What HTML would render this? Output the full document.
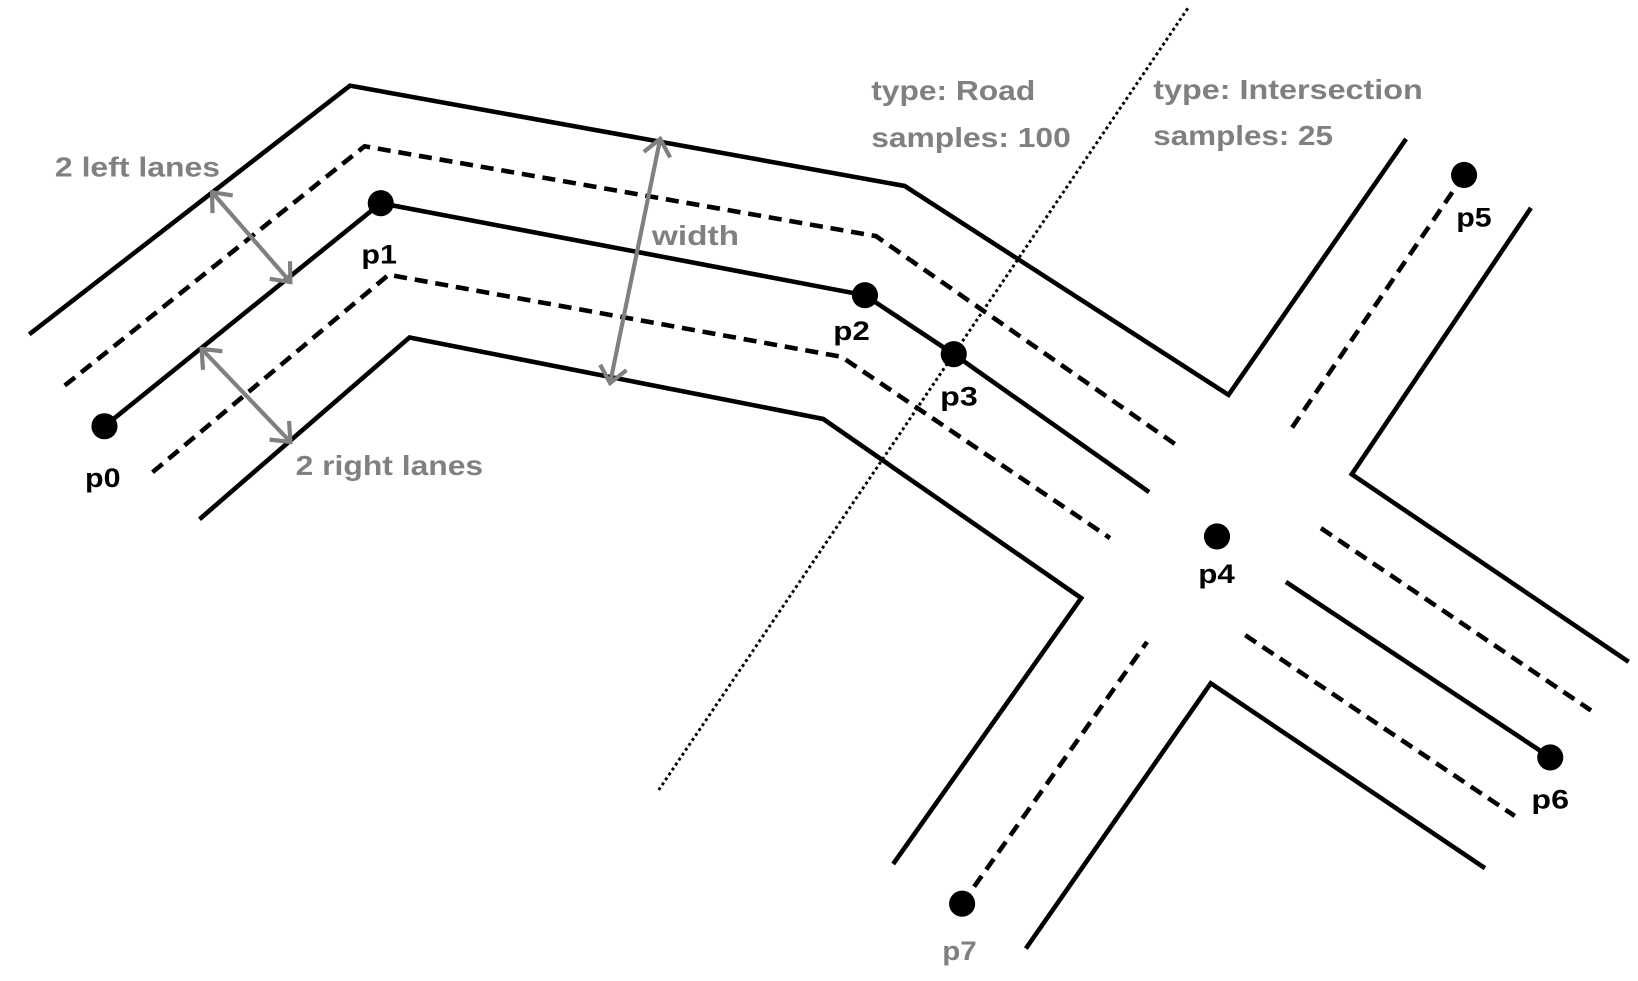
<!DOCTYPE html>
<html>
<head>
<meta charset="utf-8">
<style>
  html,body{margin:0;padding:0;background:#fff;}
  svg{display:block;}
  text{font-family:"Liberation Sans",Arial,sans-serif;font-weight:bold;}
</style>
</head>
<body>
<svg width="1638" height="981" viewBox="0 0 1568 939" preserveAspectRatio="none" xmlns="http://www.w3.org/2000/svg">
  <rect x="0" y="0" width="1568" height="939" fill="#fff"/>

  <!-- dotted separator -->
  <line x1="1137" y1="8" x2="630" y2="757" stroke="#000" stroke-width="2.8" stroke-dasharray="2.8 2.9"/>

  <g fill="none" stroke="#000" stroke-width="4.4" stroke-linejoin="miter">
    <!-- outer top boundary -->
    <polyline points="28,320 335,82 866,178 1176,378 1346,133"/>
    <!-- outer bottom boundary (road) -->
    <polyline points="191,497 392,323 788,401 1035,572.5 855,827"/>
    <!-- right upper boundary -->
    <polyline points="1465.5,199 1294,454 1559,633.5"/>
    <!-- bottom right boundary -->
    <polyline points="1421.5,831 1159,654 982,908"/>
    <!-- center line -->
    <polyline points="100,408 364.5,194.5 828,282.6 913,339 1100,471"/>
    <!-- center line right -->
    <line x1="1231" y1="557" x2="1484" y2="725"/>
  </g>

  <g fill="none" stroke="#000" stroke-width="4.4" stroke-dasharray="12.5 7.5">
    <polyline points="62,369 349,140 838.5,226 1130.5,429"/>
    <polyline points="146,452 372,263 805.5,341.5 1062.5,515"/>
    <line x1="1401.5" y1="167.5" x2="1234" y2="413.5"/>
    <line x1="921" y1="865" x2="1098" y2="614.5"/>
    <line x1="1264.5" y1="505.6" x2="1523" y2="680"/>
    <line x1="1192" y1="608" x2="1450" y2="781"/>
  </g>

  <!-- points -->
  <g fill="#000">
    <circle cx="100" cy="408" r="12.5"/>
    <circle cx="364.5" cy="194.5" r="12.5"/>
    <circle cx="828" cy="282.6" r="12.5"/>
    <circle cx="913" cy="339" r="12.5"/>
    <circle cx="1165" cy="513.5" r="12.5"/>
    <circle cx="1401.5" cy="167.5" r="12.5"/>
    <circle cx="1484" cy="725" r="12.5"/>
    <circle cx="921" cy="865" r="12.5"/>
  </g>

  <!-- gray arrows -->
  <g fill="none" stroke="#808080" stroke-width="4" stroke-linecap="butt" stroke-linejoin="miter">
    <line x1="203" y1="184" x2="278" y2="270"/>
    <polyline points="203.4,204 203,184 222.8,187.1"/>
    <polyline points="277.6,250 278,270 258.2,266.9"/>

    <line x1="193" y1="334" x2="278" y2="423"/>
    <polyline points="194.3,354 193,334 212.9,336.2"/>
    <polyline points="276.7,403 278,423 258.1,420.8"/>

    <line x1="632" y1="133" x2="584" y2="366.7"/>
    <polyline points="616.3,145.4 632,133 641.5,150.6"/>
    <polyline points="599.7,354.3 584,366.7 574.5,349.1"/>
  </g>

  <!-- gray labels -->
  <g fill="#808080" font-size="27">
    <text x="52.6" y="169" textLength="158" lengthAdjust="spacingAndGlyphs">2 left lanes</text>
    <text x="283" y="454.7" textLength="179.5" lengthAdjust="spacingAndGlyphs">2 right lanes</text>
    <text x="624" y="234.5" textLength="83.5" lengthAdjust="spacingAndGlyphs">width</text>
    <text x="834" y="95.7" textLength="157" lengthAdjust="spacingAndGlyphs">type: Road</text>
    <text x="834" y="140.5" textLength="191" lengthAdjust="spacingAndGlyphs">samples: 100</text>
    <text x="1104" y="95" textLength="258" lengthAdjust="spacingAndGlyphs">type: Intersection</text>
    <text x="1104" y="139" textLength="172" lengthAdjust="spacingAndGlyphs">samples: 25</text>
    <text x="902" y="919" font-size="26" textLength="33" lengthAdjust="spacingAndGlyphs">p7</text>
  </g>

  <!-- black point labels -->
  <g fill="#000" font-size="26">
    <text x="81.4" y="466" textLength="34" lengthAdjust="spacingAndGlyphs">p0</text>
    <text x="346" y="252" textLength="34" lengthAdjust="spacingAndGlyphs">p1</text>
    <text x="797.6" y="325.5" textLength="35" lengthAdjust="spacingAndGlyphs">p2</text>
    <text x="900" y="388" textLength="36" lengthAdjust="spacingAndGlyphs">p3</text>
    <text x="1147" y="558" textLength="35" lengthAdjust="spacingAndGlyphs">p4</text>
    <text x="1394" y="217" textLength="34" lengthAdjust="spacingAndGlyphs">p5</text>
    <text x="1466" y="774" textLength="36" lengthAdjust="spacingAndGlyphs">p6</text>
  </g>
</svg>
</body>
</html>
